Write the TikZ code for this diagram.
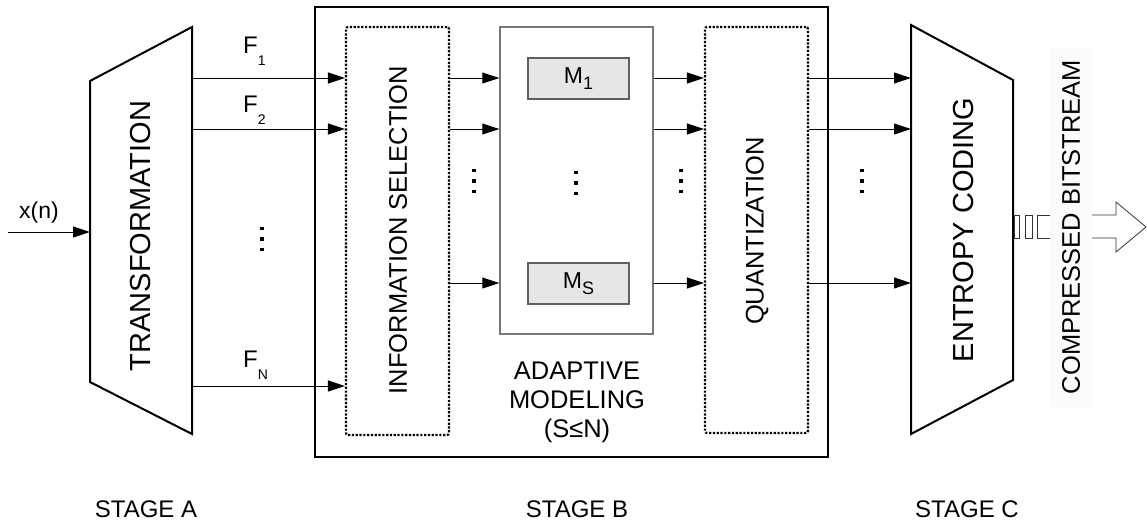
\documentclass[tikz,border=0pt]{standalone}
\usepackage{fontspec}
\setmainfont{Liberation Sans}
\usetikzlibrary{arrows.meta,calc}
\definecolor{mfill}{HTML}{E6E6E6}
\definecolor{mdraw}{HTML}{606060}
\definecolor{modraw}{HTML}{777777}
\begin{document}
\begin{tikzpicture}[x=1pt,y=-1pt,
  conn/.style={line width=1pt,-{Triangle[length=17pt,width=11pt]}},
  trap/.style={draw,line width=2pt,line join=miter},
  outerbox/.style={draw,line width=2pt,inner sep=0pt},
  dotbox/.style={draw,line width=2.2pt,dash pattern=on 2.2pt off 1.6pt,rounded corners=2pt,inner sep=0pt},
  modelbox/.style={draw=modraw,line width=1.4pt,inner sep=0pt},
  mbox/.style={draw=mdraw,fill=mfill,line width=1.2pt,inner sep=0pt,minimum width=101pt,minimum height=41pt,font=\fontsize{23}{23}\selectfont},
  bigtxt/.style={rotate=90,font=\fontsize{29}{30}\selectfont,inner sep=0pt},
  midtxt/.style={rotate=90,font=\fontsize{25.5}{27}\selectfont,inner sep=0pt},
  flabel/.style={anchor=base west,inner sep=0pt,font=\fontsize{24}{24}\selectfont},
  stagetxt/.style={anchor=base,inner sep=0pt,font=\fontsize{24}{24}\selectfont},
  vd/.pic={\foreach \d in {-10.5,0,10.5} \fill (-1.8,\d-1.8) rectangle (1.8,\d+1.8);}
]
\useasboundingbox (0,0) rectangle (1147,525);

% row coordinates
\coordinate (r1) at (0,78);
\coordinate (r2) at (0,129);
\coordinate (r3) at (0,283);
\coordinate (rN) at (0,386);

% Stage A: transformation
\draw[trap] (90,81) -- (192,27) -- (192,434) -- (90,382) -- cycle;
\coordinate (tL) at (90,232);
\coordinate (tR) at (192,0);
\node[bigtxt] (transT) at (141,236) {TRANSFORMATION};
\coordinate (xin) at (8,232);
\draw[conn] (xin) -- (tL);
\node[anchor=base,inner sep=0pt,font=\fontsize{23}{23}\selectfont] (xn) at (39,218) {x(n)};

% Stage B
\node[outerbox,minimum width=513pt,minimum height=450pt] (stageB) at (571.5,232) {};
\node[dotbox,minimum width=103pt,minimum height=408pt] (info) at (397.5,231) {};
\node[midtxt] (infoT) at (398,230) {INFORMATION SELECTION};
\node[modelbox,minimum width=153pt,minimum height=307pt] (model) at (576.5,180.5) {};
\node[mbox] (M1) at (578.5,78.5) {M\raisebox{-6pt}{\fontsize{18}{18}\selectfont 1}};
\node[mbox] (MS) at (578.5,283.5) {M\raisebox{-6pt}{\fontsize{18}{18}\selectfont S}};
\node[dotbox,minimum width=103pt,minimum height=406pt] (quant) at (756.5,230) {};
\node[midtxt] (quantT) at (757,231) {QUANTIZATION};
\node[align=center,inner sep=0pt,font=\fontsize{25.5}{29}\selectfont] (adapt) at (577,402) {ADAPTIVE\\MODELING\\(S≤N)};

% Stage C: entropy coding
\draw[trap] (911,25) -- (1013,80) -- (1013,380) -- (911,434) -- cycle;
\coordinate (eL) at (911,0);
\node[bigtxt] (entT) at (964,230) {ENTROPY CODING};

% F labels
\node[flabel] (F1) at (243,53) {F\raisebox{-12pt}{\fontsize{14}{14}\selectfont 1}};
\node[flabel] (F2) at (243,112) {F\raisebox{-12pt}{\fontsize{14}{14}\selectfont 2}};
\node[flabel] (FN) at (243,367) {F\raisebox{-12pt}{\fontsize{14}{14}\selectfont N}};

% connectors
\foreach \r in {r1,r2,rN} \draw[conn] (tR |- \r) -- (info.west |- \r);
\foreach \r in {r1,r2,r3} {
  \draw[conn] (info.east |- \r) -- (model.west |- \r);
  \draw[conn] (model.east |- \r) -- (quant.west |- \r);
  \draw[conn] (quant.east |- \r) -- (eL |- \r);
}

% vertical dots
\pic at (262,239) {vd};
\pic at (474,181) {vd};
\pic at (576,183) {vd};
\pic at (681,181) {vd};
\pic at (862,181) {vd};

% compressed bitstream
\fill[black!1.5] (1050,47) rectangle (1092,407);
\node[midtxt] (cbT) at (1071,227) {COMPRESSED BITSTREAM};
\begin{scope}[line width=0.8pt,draw=black!80]
\draw (1014,215) rectangle (1019,238);
\draw (1025,215) rectangle (1032,238);
\draw (1050,215) -- (1037,215) -- (1037,238) -- (1050,238);
\draw[line join=miter] (1092,215) -- (1116,215) -- (1116,202) -- (1146,227) -- (1116,252) -- (1116,238) -- (1092,238);
\end{scope}

% stage labels
\node[stagetxt] (sA) at (146,517) {STAGE A};
\node[stagetxt] (sB) at (577,517) {STAGE B};
\node[stagetxt] (sC) at (967,517) {STAGE C};
\end{tikzpicture}
\end{document}
